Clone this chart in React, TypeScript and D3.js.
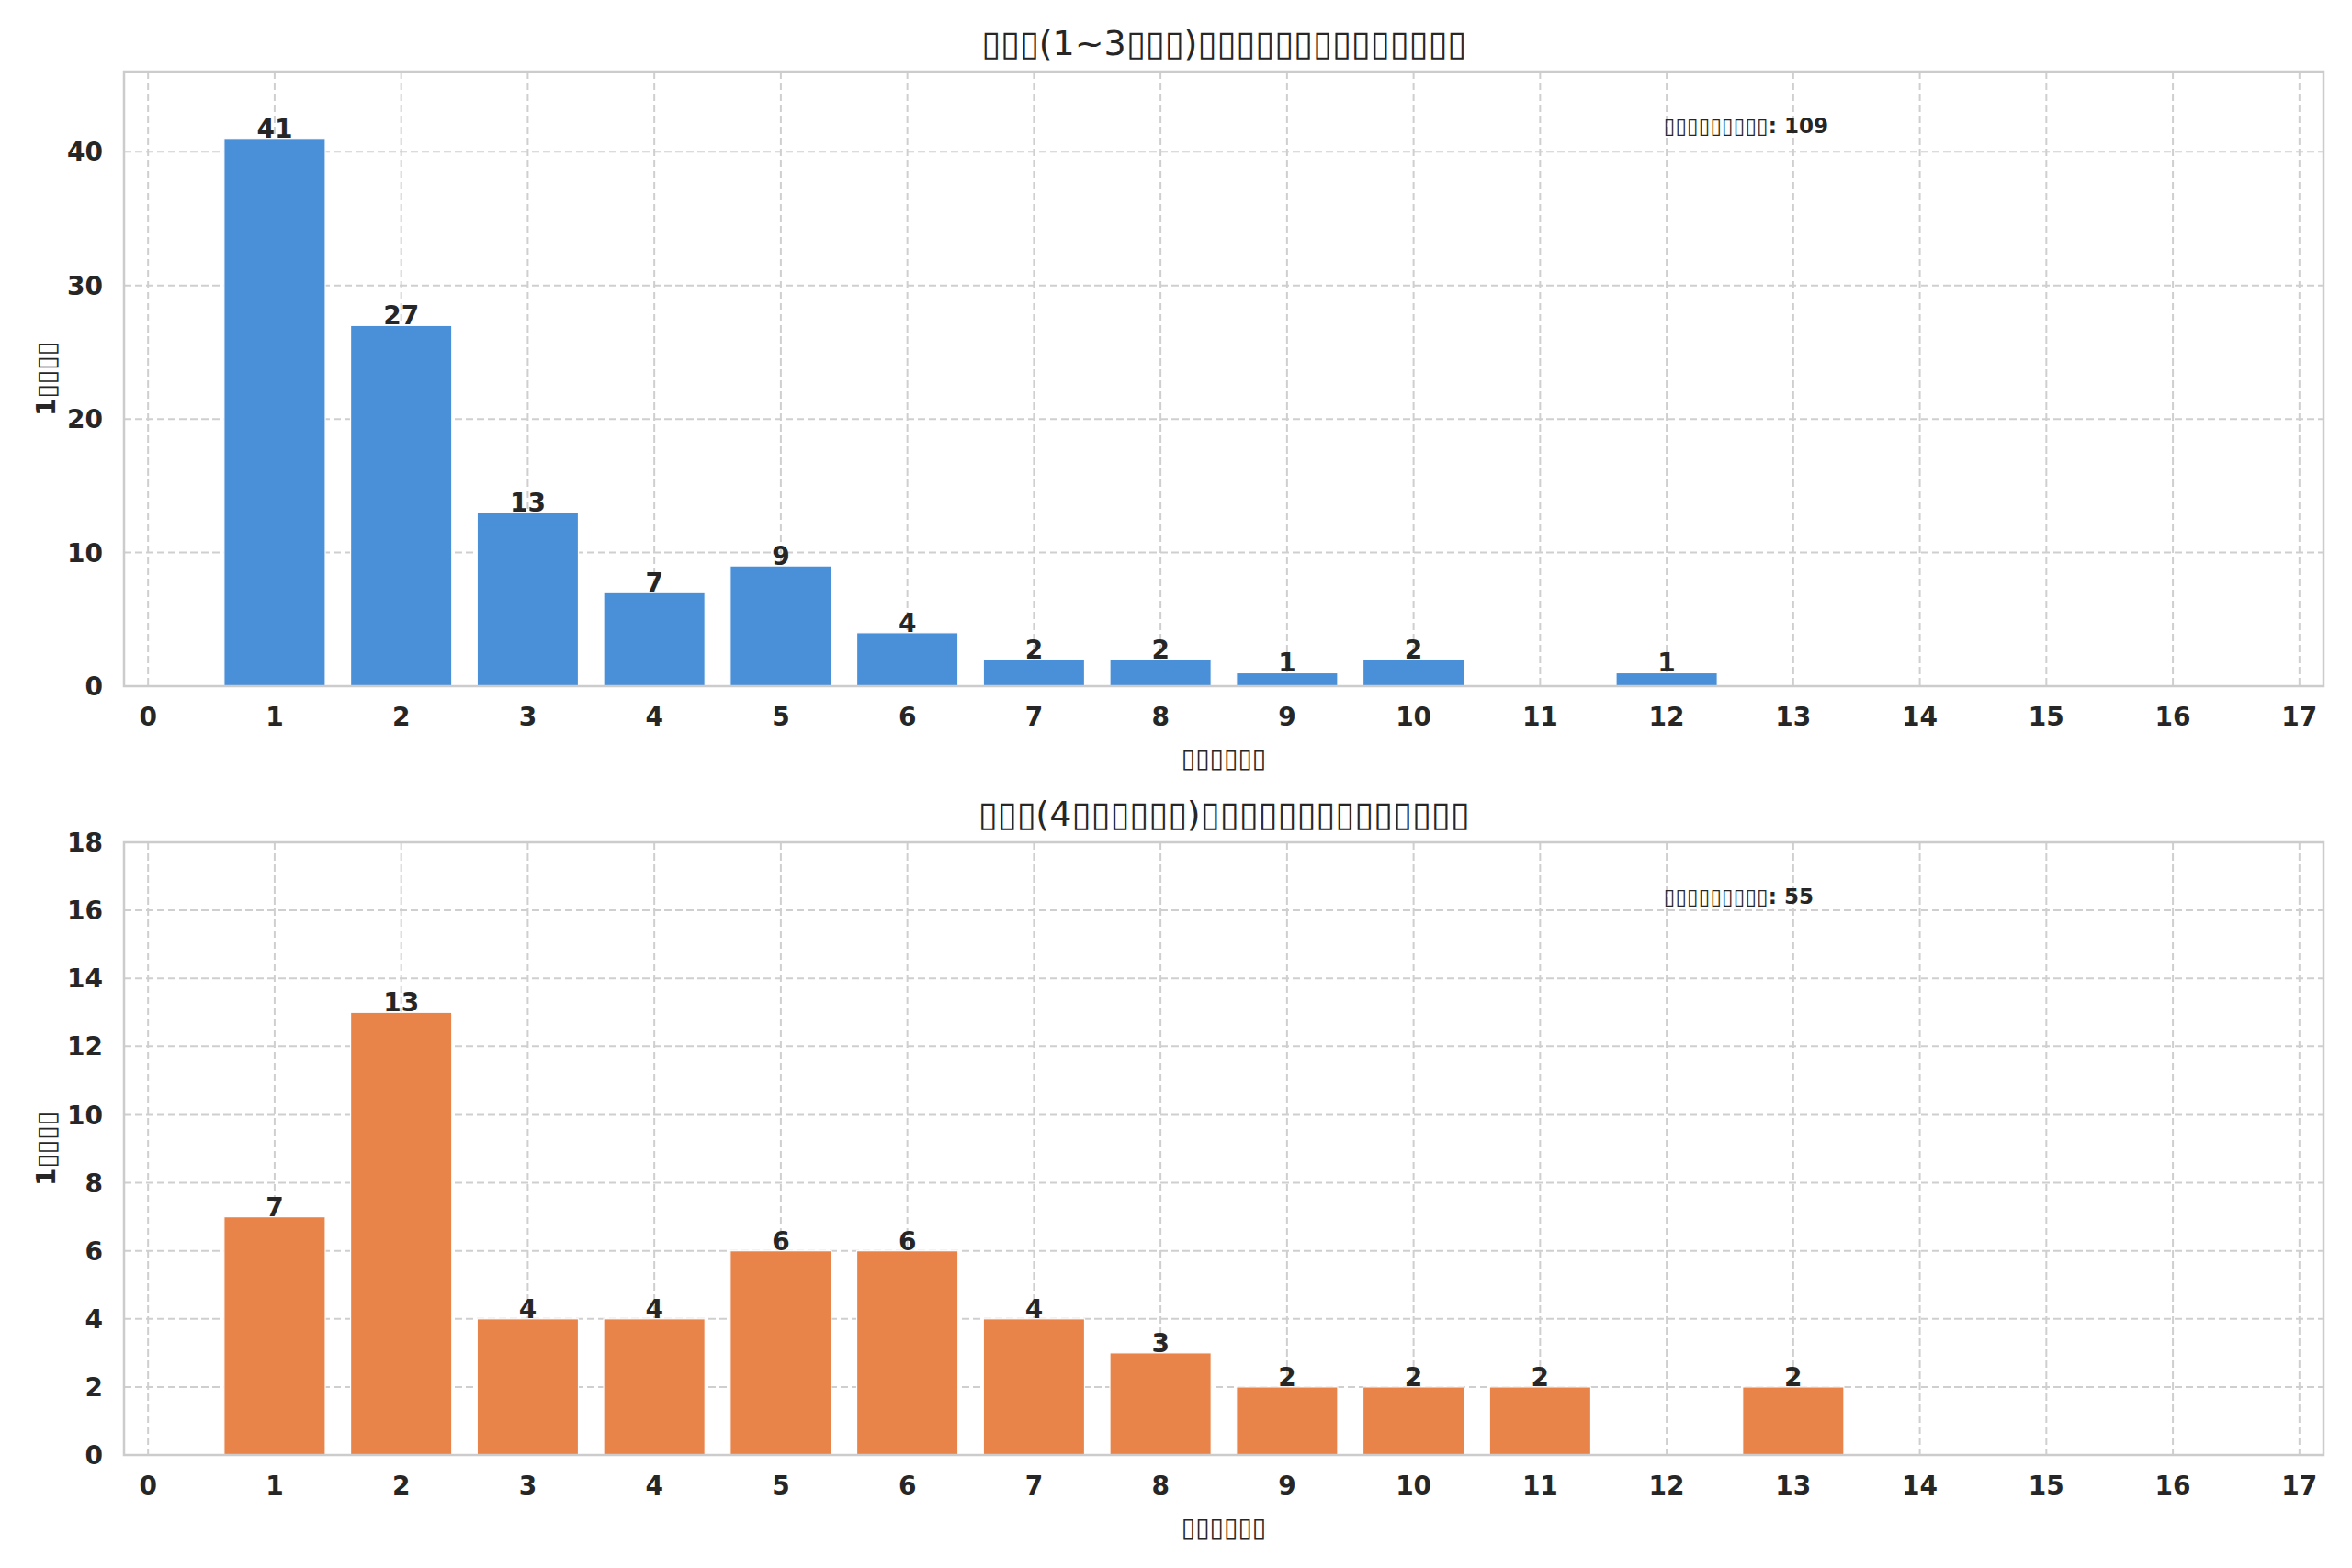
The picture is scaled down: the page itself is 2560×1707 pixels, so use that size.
import React, { useEffect, useRef } from "react";
import * as d3 from "d3";

// tofu boxes stand in for the glyphs the original font could not draw
const T = "\u25AF";
const box = (n: number) => T.repeat(n);

const topTitle = `${box(3)}(1~3${box(3)})${box(14)}`;
const bottomTitle = `${box(3)}(4${box(6)})${box(14)}`;
const xLabel = box(6);
const yLabel = `1${box(4)}`;
const noteLabel = box(9);

const topCounts = [1, 2, 3, 4, 5, 6, 7, 8, 9, 10, 12];
const topValues = [41, 27, 13, 7, 9, 4, 2, 2, 1, 2, 1];
const bottomCounts = [1, 2, 3, 4, 5, 6, 7, 8, 9, 10, 11, 13];
const bottomValues = [7, 13, 4, 4, 6, 6, 4, 3, 2, 2, 2, 2];
const xTicks = d3.range(0, 18);
const topYTicks = [0, 10, 20, 30, 40];
const bottomYTicks = [0, 2, 4, 6, 8, 10, 12, 14, 16, 18];

const W = 2560;
const H = 1707;
const FONT = "DejaVu Sans";
const INK = "#262626";

type Panel = {
  top: number;
  bottom: number;
  yMax: number;
  yTicks: number[];
  counts: number[];
  values: number[];
  color: string;
  title: string;
};

const panels: Panel[] = [
  { top: 78, bottom: 747, yMax: 46, yTicks: topYTicks, counts: topCounts, values: topValues, color: "#4a90d9", title: topTitle },
  { top: 917, bottom: 1584, yMax: 18, yTicks: bottomYTicks, counts: bottomCounts, values: bottomValues, color: "#e8834a", title: bottomTitle },
];

const App: React.FC = () => {
  const svgRef = useRef<SVGSVGElement | null>(null);

  useEffect(() => {
    const svg = d3.select(svgRef.current);
    svg.selectAll("*").remove();

    const left = 135;
    const right = 2529;

    const x = d3.scaleLinear().domain([-0.19, 17.19]).range([left, right]);

    svg.append("rect").attr("width", W).attr("height", H).attr("fill", "white");

    panels.forEach((p) => {
      const y = d3.scaleLinear().domain([0, p.yMax]).range([p.bottom, p.top]);
      const g = svg.append("g");

      // grid
      g.selectAll("line.vgrid")
        .data(xTicks)
        .join("line")
        .attr("x1", (d) => x(d))
        .attr("x2", (d) => x(d))
        .attr("y1", p.top)
        .attr("y2", p.bottom)
        .attr("stroke", "#cfcfcf")
        .attr("stroke-width", 2)
        .attr("stroke-dasharray", "8,4");

      g.selectAll("line.hgrid")
        .data(p.yTicks)
        .join("line")
        .attr("x1", left)
        .attr("x2", right)
        .attr("y1", (d) => y(d))
        .attr("y2", (d) => y(d))
        .attr("stroke", "#cfcfcf")
        .attr("stroke-width", 2)
        .attr("stroke-dasharray", "8,4");

      // bars
      g.selectAll("rect.bar")
        .data(p.values)
        .join("rect")
        .attr("x", (_, i) => x(p.counts[i] - 0.4))
        .attr("width", x(0.8) - x(0))
        .attr("y", (d) => y(d))
        .attr("height", (d) => p.bottom - y(d))
        .attr("fill", p.color)
        .attr("stroke", "white")
        .attr("stroke-width", 1.2);

      // value labels
      g.selectAll("text.val")
        .data(p.values)
        .join("text")
        .attr("x", (_, i) => x(p.counts[i]))
        .attr("y", (d) => y(d) - 1)
        .attr("text-anchor", "middle")
        .attr("font-family", FONT)
        .attr("font-weight", "bold")
        .attr("font-size", 28)
        .attr("fill", INK)
        .text((d) => d);

      // spines
      g.append("rect")
        .attr("x", left)
        .attr("y", p.top)
        .attr("width", right - left)
        .attr("height", p.bottom - p.top)
        .attr("fill", "none")
        .attr("stroke", "#cccccc")
        .attr("stroke-width", 2.5);

      // tick labels
      g.selectAll("text.xt")
        .data(xTicks)
        .join("text")
        .attr("x", (d) => x(d))
        .attr("y", p.bottom + 43)
        .attr("text-anchor", "middle")
        .attr("font-family", FONT)
        .attr("font-weight", "bold")
        .attr("font-size", 28)
        .attr("fill", INK)
        .text((d) => d);

      g.selectAll("text.yt")
        .data(p.yTicks)
        .join("text")
        .attr("x", 112)
        .attr("y", (d) => y(d))
        .attr("dy", "0.36em")
        .attr("text-anchor", "end")
        .attr("font-family", FONT)
        .attr("font-weight", "bold")
        .attr("font-size", 28)
        .attr("fill", INK)
        .text((d) => d);

      // title and axis labels
      g.append("text")
        .attr("x", (left + right) / 2)
        .attr("y", p.top - 18)
        .attr("text-anchor", "middle")
        .attr("font-family", FONT)
        .attr("font-size", 38)
        .attr("fill", INK)
        .text(p.title);

      g.append("text")
        .attr("x", (left + right) / 2)
        .attr("y", p.bottom + 88)
        .attr("text-anchor", "middle")
        .attr("font-family", FONT)
        .attr("font-weight", "bold")
        .attr("font-size", 28)
        .attr("fill", INK)
        .text(xLabel);

      g.append("text")
        .attr("transform", `translate(60,${(p.top + p.bottom) / 2}) rotate(-90)`)
        .attr("text-anchor", "middle")
        .attr("font-family", FONT)
        .attr("font-weight", "bold")
        .attr("font-size", 28)
        .attr("fill", INK)
        .text(yLabel);

      const total = d3.sum(p.values);
      g.append("text")
        .attr("x", left + 0.7 * (right - left))
        .attr("y", p.bottom - 0.9 * (p.bottom - p.top))
        .attr("font-family", FONT)
        .attr("font-weight", "bold")
        .attr("font-size", 23)
        .attr("fill", INK)
        .text(`${noteLabel}: ${total}`);
    });
  }, []);

  return (
    <div style={{ position: "absolute", left: 0, top: 0 }}>
      <svg ref={svgRef} width={W} height={H} style={{ display: "block" }}></svg>
    </div>
  );
};

export default App;
